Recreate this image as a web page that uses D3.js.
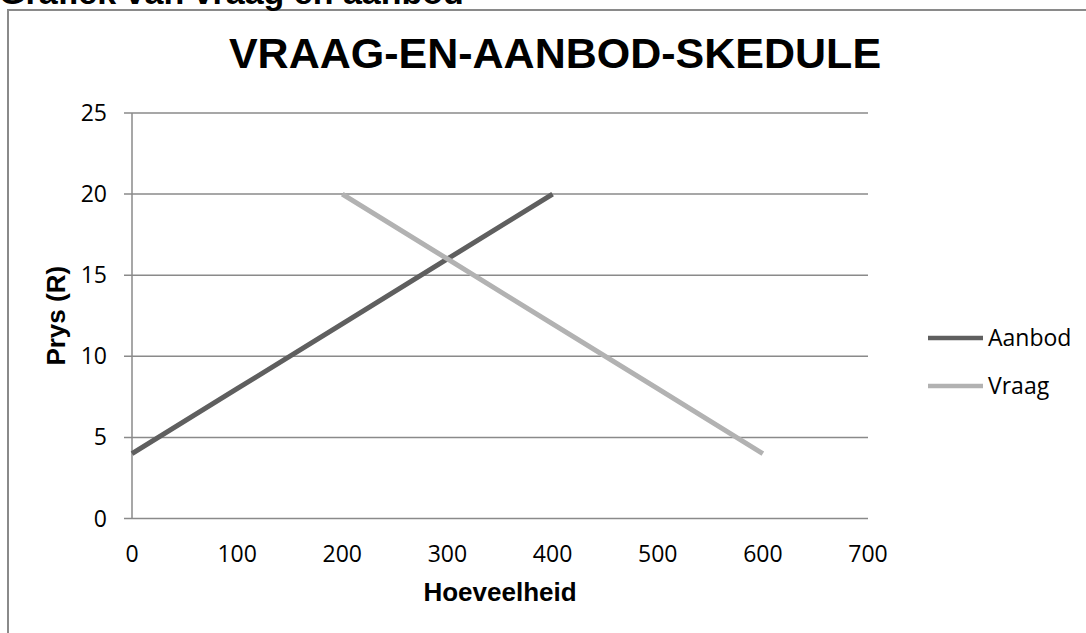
<!DOCTYPE html>
<meta charset="utf-8">
<style>
body { margin: 0; background: #ffffff; }
svg { display: block; }
.tick-label { font-family: "Open Sans", sans-serif; font-size: 23px; fill: #000; }
.bold { font-family: "Liberation Sans", Arial, sans-serif; font-weight: bold; fill: #000; }
</style>
<body>
<script src="https://d3js.org/d3.v7.min.js"></script>
<script>
var width = 1086,
    height = 633;

// data
var seriesNames = ["Aanbod", "Vraag"];
var aanbodX = [0, 100, 200, 300, 400];
var aanbodY = [4, 8, 12, 16, 20];
var vraagX = [200, 300, 400, 500, 600];
var vraagY = [20, 16, 12, 8, 4];
var xTicks = [0, 100, 200, 300, 400, 500, 600, 700];
var yTicks = [0, 5, 10, 15, 20, 25];

var colors = { Aanbod: "#5f5f5f", Vraag: "#b2b2b2" };

var x = d3.scaleLinear().domain([0, 700]).range([132, 868]);
var y = d3.scaleLinear().domain([0, 25]).range([518.5, 113]);

var svg = d3.select("body").append("svg")
    .attr("width", width)
    .attr("height", height);

// outer frame (runs off the right and bottom)
svg.append("rect")
    .attr("x", 8).attr("y", 10)
    .attr("width", 1200).attr("height", 800)
    .attr("fill", "none")
    .attr("stroke", "#8a8a8a")
    .attr("stroke-width", 2);

// cut off heading above the frame
svg.append("text")
    .attr("class", "bold")
    .attr("x", -1).attr("y", 4)
    .style("font-size", "34px")
    .text("Grafiek van vraag en aanbod");

// grid lines + y ticks
svg.append("g").selectAll("line")
    .data(yTicks)
    .enter().append("line")
    .attr("x1", x(0) - 8)
    .attr("x2", x(700))
    .attr("y1", function(d) { return y(d); })
    .attr("y2", function(d) { return y(d); })
    .attr("stroke", "#8a8a8a")
    .attr("stroke-width", 1.5);

// y axis line
svg.append("line")
    .attr("x1", x(0)).attr("x2", x(0))
    .attr("y1", y(25)).attr("y2", y(0))
    .attr("stroke", "#8a8a8a")
    .attr("stroke-width", 1.5);

svg.append("g").selectAll("text")
    .data(yTicks)
    .enter().append("text")
    .attr("class", "tick-label")
    .attr("text-anchor", "end")
    .attr("x", 107)
    .attr("y", function(d) { return y(d) + 8; })
    .text(function(d) { return d; });

svg.append("g").selectAll("text")
    .data(xTicks)
    .enter().append("text")
    .attr("class", "tick-label")
    .attr("text-anchor", "middle")
    .attr("x", function(d) { return x(d); })
    .attr("y", 562)
    .text(function(d) { return d; });

// series
var line = d3.line()
    .x(function(d) { return x(d[0]); })
    .y(function(d) { return y(d[1]); });

var series = [
  { name: "Aanbod", pts: d3.zip(aanbodX, aanbodY) },
  { name: "Vraag", pts: d3.zip(vraagX, vraagY) }
];

svg.append("g").selectAll("path")
    .data(series)
    .enter().append("path")
    .attr("d", function(d) { return line(d.pts); })
    .attr("fill", "none")
    .attr("stroke", function(d) { return colors[d.name]; })
    .attr("stroke-width", 5);

// titles
svg.append("text")
    .attr("class", "bold")
    .attr("text-anchor", "middle")
    .attr("x", 555).attr("y", 68)
    .style("font-size", "43px")
    .text("VRAAG-EN-AANBOD-SKEDULE");

svg.append("text")
    .attr("class", "bold")
    .attr("text-anchor", "middle")
    .attr("x", 500).attr("y", 601)
    .style("font-size", "26px")
    .text("Hoeveelheid");

svg.append("text")
    .attr("class", "bold")
    .attr("text-anchor", "middle")
    .attr("transform", "translate(65," + ((y(0) + y(25)) / 2) + ") rotate(-90)")
    .style("font-size", "26px")
    .text("Prys (R)");

// legend
var legend = svg.append("g").selectAll("g")
    .data(seriesNames)
    .enter().append("g")
    .attr("transform", function(d, i) { return "translate(928," + (338 + i * 48) + ")"; });

legend.append("line")
    .attr("x1", 0).attr("x2", 55)
    .attr("stroke", function(d) { return colors[d]; })
    .attr("stroke-width", 4.5);

legend.append("text")
    .attr("class", "tick-label")
    .attr("x", 60)
    .attr("y", 8)
    .text(function(d) { return d; });
</script>
</body>
</html>
